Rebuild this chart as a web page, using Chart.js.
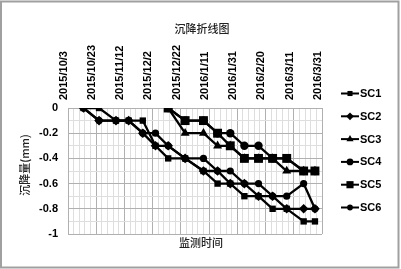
<!DOCTYPE html>
<html><head><meta charset="utf-8">
<script src="https://cdn.jsdelivr.net/npm/chart.js@4.4.1/dist/chart.umd.min.js"></script>
<style>html,body{margin:0;padding:0;background:#fff;}#wrap{width:401px;height:269px;position:relative}</style>
</head><body><div id="wrap"><canvas id="c" width="401" height="269"></canvas></div>
<script>
// ---- data ----
const chartTitle = '沉降折线图';
const xTitle = '监测时间';
const yTitle = '沉降量(mm)';
const axisStart = '2015/10/3';
const xTickLabels = ['2015/10/3','2015/10/23','2015/11/12','2015/12/2','2015/12/22','2016/1/11','2016/1/31','2016/2/20','2016/3/11','2016/3/31'];
const dates = ['2015/10/14','2015/10/25','2015/11/6','2015/11/15','2015/11/25','2015/12/4','2015/12/13','2015/12/25','2016/1/7','2016/1/17','2016/1/26','2016/2/5','2016/2/15','2016/2/25','2016/3/6','2016/3/18','2016/3/26'];
const seriesNames = ['SC1','SC2','SC3','SC4','SC5','SC6'];
const sc1 = [0,0,-0.1,-0.1,-0.1,-0.3,-0.4,-0.4,-0.5,-0.6,-0.6,-0.7,-0.7,-0.8,-0.8,-0.9,-0.9];
const sc2 = [0,-0.1,-0.1,-0.1,-0.2,-0.3,-0.3,-0.4,-0.5,-0.5,-0.6,-0.6,-0.7,-0.7,-0.8,-0.8,-0.8];
const sc3 = [null,null,null,null,null,null,0,-0.2,-0.2,-0.3,-0.3,-0.4,-0.4,-0.4,-0.5,-0.5,-0.5];
const sc4 = [null,null,null,null,null,null,0,-0.1,-0.1,-0.2,-0.2,-0.3,-0.3,-0.4,-0.4,-0.5,-0.5];
const sc5 = [null,null,null,null,null,null,0,-0.1,-0.1,-0.2,-0.3,-0.4,-0.4,-0.4,-0.4,-0.5,-0.5];
const sc6 = [0,-0.1,-0.1,-0.1,-0.2,-0.2,-0.3,-0.4,-0.4,-0.5,-0.5,-0.6,-0.6,-0.7,-0.7,-0.6,-0.8];
const seriesValues = [sc1, sc2, sc3, sc4, sc5, sc6];

// ---- helpers ----
function dayNum(s){const p=s.split('/').map(Number);return Date.UTC(p[0],p[1]-1,p[2])/86400000;}
const d0 = dayNum(axisStart);
const xDays = dates.map(s => dayNum(s) - d0);
const styles = [
  {pointStyle:'rect', radius:4.5},
  {pointStyle:'rectRot', radius:4.8},
  {pointStyle:'triangle', radius:5.2},
  {pointStyle:'circle', radius:4.2},
  {pointStyle:'rect', radius:6.3},
  {pointStyle:'circle', radius:3.6}
];
const datasets = seriesNames.map((n,i)=>({
  label:n,
  data: seriesValues[i].map((v,j)=>({x:xDays[j], y:v})),
  borderColor:'#000', backgroundColor:'#000', borderWidth:2.3,
  pointStyle:styles[i].pointStyle, pointRadius:styles[i].radius,
  pointBackgroundColor:'#000', pointBorderColor:'#000', pointBorderWidth:0,
  tension:0, spanGaps:false
}));

const MAJOR = '#b0b0b0', MINOR = '#dedede';
const FONT = '"Liberation Sans", Arial, sans-serif';
const CJK = '"Noto Sans CJK SC", "Liberation Sans", sans-serif';

const decor = {
  id:'decor',
  beforeDraw(chart){
    const ctx = chart.ctx;
    ctx.save(); ctx.fillStyle='#fff'; ctx.fillRect(0,0,chart.width,chart.height); ctx.restore();
  },
  afterDraw(chart){
    const ctx = chart.ctx;
    ctx.save();
    ctx.fillStyle='#222';
    ctx.textAlign='center'; ctx.textBaseline='middle';
    ctx.font = '500 11px ' + CJK;
    ctx.fillText(chartTitle, 202, 29);
    ctx.fillText(xTitle, 201, 243);
    ctx.save();
    ctx.translate(25, 165); ctx.rotate(-Math.PI/2);
    ctx.fillText(yTitle, 0, 0);
    ctx.restore();
    // legend
    for (let i=0;i<seriesNames.length;i++){
      const y = 93.5 + i*22.8;
      ctx.strokeStyle='#000'; ctx.lineWidth=2;
      ctx.beginPath(); ctx.moveTo(341,y); ctx.lineTo(359,y); ctx.stroke();
      ctx.fillStyle='#000';
      Chart.helpers.drawPoint(ctx,{pointStyle:styles[i].pointStyle,radius:styles[i].radius*0.8,rotation:0,borderWidth:0},350,y);
      ctx.fillStyle='#000'; ctx.textAlign='left'; ctx.font='bold 11px '+FONT;
      ctx.fillText(seriesNames[i], 360, y+0.5);
    }
    // outer border
    ctx.strokeStyle='#a0a0a0'; ctx.lineWidth=2;
    ctx.strokeRect(1,1.5,397.5,266);
    ctx.restore();
  }
};

new Chart(document.getElementById('c'), {
  type:'line',
  data:{datasets},
  options:{
    responsive:false, animation:false, devicePixelRatio:1,
    layout:{padding:{left:8, top:0, right:79, bottom:35}},
    plugins:{legend:{display:false}, title:{display:false}, tooltip:{enabled:false}},
    scales:{
      x:{
        type:'linear', position:'top', min:0, max:180,
        afterFit(s){ s.height = 108; },
        grid:{drawTicks:false, color:c=> (c.tick && c.tick.value%20===0) ? MAJOR : MINOR, lineWidth:1},
        border:{display:true, color:MAJOR},
        ticks:{stepSize:4, autoSkip:false, maxRotation:90, minRotation:90, padding:8, labelOffset:9,
          color:'#000', font:{family:FONT, size:11, weight:'bold'},
          callback:v => (v%20===0) ? xTickLabels[v/20] : ''}
      },
      y:{
        min:-1, max:0,
        afterFit(s){ s.width = 60; },
        grid:{drawTicks:false, color:c=>{const k=Math.round(c.tick.value*10);return k%2===0?MAJOR:MINOR;}, lineWidth:1},
        border:{display:true, color:MAJOR},
        ticks:{stepSize:0.1, autoSkip:false, padding:10, color:'#000', font:{family:FONT, size:11, weight:'bold'},
          callback:v=>{const k=Math.round(v*10);return k%2===0?String(k/10):'';}}
      }
    }
  },
  plugins:[decor]
});
</script></body></html>
